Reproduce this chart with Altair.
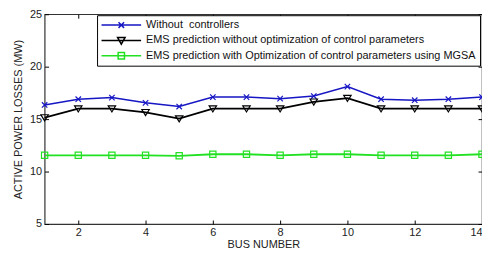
import altair as alt
import pandas as pd

buses = list(range(1, 15))
without_ctrl = [16.35, 16.9, 17.05, 16.55, 16.2, 17.1, 17.1, 16.95, 17.2, 18.1, 16.9, 16.8, 16.9, 17.1]
ems_no_opt = [15.15, 16.0, 16.0, 15.65, 15.05, 16.0, 16.0, 16.0, 16.65, 17.0, 16.0, 16.0, 16.0, 16.0]
ems_mgsa = [11.55, 11.55, 11.55, 11.55, 11.5, 11.65, 11.65, 11.55, 11.65, 11.65, 11.55, 11.55, 11.55, 11.65]

series_names = [
    "Without\u00a0 controllers",
    "EMS prediction without optimization of control parameters",
    "EMS prediction with Optimization of control parameters using MGSA",
]
series_colors = ["#1616c4", "#000000", "#22e022"]
x_ticks = [2, 4, 6, 8, 10, 12, 14]
y_ticks = [5, 10, 15, 20, 25]

rows = []
for name, vals in zip(series_names, [without_ctrl, ems_no_opt, ems_mgsa]):
    for b, v in zip(buses, vals):
        rows.append({"bus": b, "loss": v, "series": name})
df = pd.DataFrame(rows)

W, H = 442, 212
FONT = "Liberation Sans"

xs = alt.Scale(domain=[1, 14], nice=False, zero=False)
ys = alt.Scale(domain=[5, 25], nice=False, zero=False)
cs = alt.Scale(domain=series_names, range=series_colors)

X = alt.X("bus:Q", scale=xs, axis=alt.Axis(
    values=x_ticks, orient="bottom", domain=False, ticks=False,
    grid=True, gridColor="#000", gridWidth=1, gridOpacity=1,
    gridDash=[4, H - 8, 4, 2000],
    labelPadding=3, labelFontSize=11, labelFont=FONT, labelColor="#222",
    title="BUS NUMBER", titleFont=FONT, titleFontSize=11,
    titleFontWeight="normal", titleColor="#222", titlePadding=1))
Y = alt.Y("loss:Q", scale=ys, axis=alt.Axis(
    values=y_ticks, orient="left", domain=False, ticks=False,
    grid=True, gridColor="#000", gridWidth=1, gridOpacity=1,
    gridDash=[4, W - 8, 4, 2000],
    labelPadding=3, labelFontSize=11, labelFont=FONT, labelColor="#222",
    title="ACTIVE POWER LOSSES (MW)", titleFont=FONT, titleFontSize=11,
    titleFontWeight="normal", titleColor="#222", titlePadding=6))

# marker paths (unit square)
marker_paths = [
    "M-1,-1L1,1M-1,1L1,-1",
    "M-1,-0.75L1,-0.75L0,0.9Z",
    "square",
]
marker_sizes = [30, 56, 40]
line_widths = [1.5, 1.8, 1.8]
leg_paths = [
    "M-1,0H1M-0.14,-0.14L0.14,0.14M-0.14,0.14L0.14,-0.14",
    "M-1,0H1M-0.19,-0.15L0.19,-0.15L0,0.19Z",
    "M-1,0H1M-0.16,-0.16H0.16V0.16H-0.16Z",
]

base = alt.Chart(df)

layers = []
for name, col, shp, sz, lw in zip(series_names, series_colors, marker_paths, marker_sizes, line_widths):
    layers.append(
        base.transform_filter(alt.datum.series == name).mark_line(
            color=col, strokeWidth=lw,
            point=alt.OverlayMarkDef(shape=shp, size=sz, filled=False, color=col,
                                     strokeWidth=1.2, opacity=1),
        ).encode(x=X, y=Y)
    )

leg = alt.Legend(
    title=None, orient="none", legendX=53, legendY=1,
    symbolSize=1600, clipHeight=13, rowPadding=2.5, padding=3.5,
    labelFont=FONT, labelFontSize=11, labelColor="#111", labelLimit=500,
    labelOffset=4, symbolStrokeWidth=1.5, strokeColor="#000",
    fillColor="#fff", symbolOpacity=1,
)

legend_layer = base.transform_filter("false").mark_point(
    filled=False, opacity=1
).encode(
    x=X, y=Y,
    color=alt.Color("series:N", scale=cs, legend=leg),
    shape=alt.Shape("series:N", scale=alt.Scale(domain=series_names, range=leg_paths), legend=leg),
)

chart = alt.layer(*layers, legend_layer).properties(
    width=W, height=H, autosize=alt.AutoSizeParams(type="none"),
    padding={"left": 37, "top": 5, "right": 0, "bottom": 27},
    background="#ffffff",
).configure_view(stroke="#333", strokeWidth=1.2)

chart.save("out.html", embed_options={"renderer": "svg", "actions": False})
